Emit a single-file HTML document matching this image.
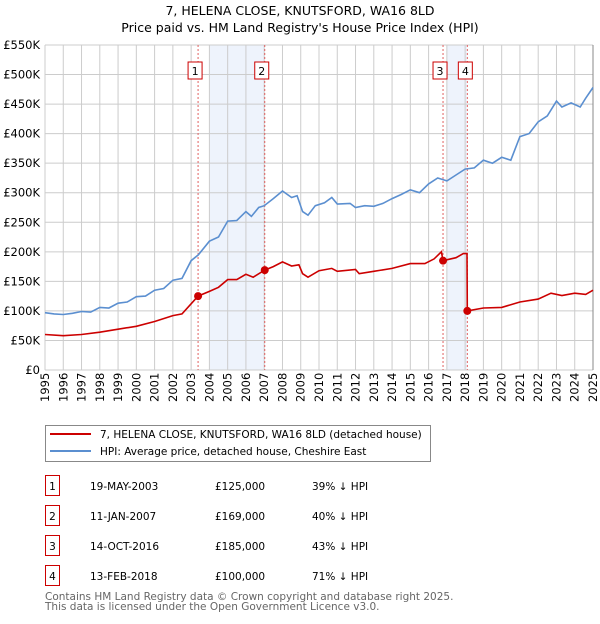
<!DOCTYPE html>
<html><head><meta charset="utf-8"><style>
body{margin:0;background:#fff;font-family:"DejaVu Sans","Liberation Sans",sans-serif;}
svg text{font-family:"DejaVu Sans","Liberation Sans",sans-serif;}
</style></head><body>
<svg id="chart" width="600" height="620" viewBox="0 0 600 620" xmlns="http://www.w3.org/2000/svg">
<text x="300" y="15" text-anchor="middle" font-size="12.5">7, HELENA CLOSE, KNUTSFORD, WA16 8LD</text>
<text x="300" y="32" text-anchor="middle" font-size="12.5">Price paid vs. HM Land Registry's House Price Index (HPI)</text>
<g id="plot"></g>
<g>
<rect x="45.5" y="425.5" width="385" height="36" fill="#fff" stroke="#888"/>
<line x1="50" y1="434" x2="91" y2="434" stroke="#cc0000" stroke-width="2"/>
<text x="100" y="438" font-size="10.5">7, HELENA CLOSE, KNUTSFORD, WA16 8LD (detached house)</text>
<line x1="50" y1="451" x2="91" y2="451" stroke="#5b8fd0" stroke-width="2"/>
<text x="100" y="455" font-size="10.5">HPI: Average price, detached house, Cheshire East</text>
</g>
<g id="table"></g>
<text x="45" y="600" font-size="10.5" fill="#666">Contains HM Land Registry data © Crown copyright and database right 2025.</text>
<text x="45" y="610" font-size="10.5" fill="#666">This data is licensed under the Open Government Licence v3.0.</text>
</svg>
<script>
const hpiYears=[1995,1995.5,1996,1996.5,1997,1997.5,1998,1998.5,1999,1999.5,2000,2000.5,2001,2001.5,2002,2002.5,2003,2003.4,2004,2004.5,2005,2005.5,2006,2006.3,2006.7,2007,2007.5,2008,2008.5,2008.8,2009.1,2009.4,2009.8,2010.3,2010.7,2011,2011.7,2012,2012.5,2013,2013.5,2014,2014.5,2015,2015.5,2016,2016.5,2017,2017.5,2018,2018.5,2019,2019.5,2020,2020.5,2021,2021.5,2022,2022.5,2023,2023.3,2023.8,2024.3,2024.6,2025];
const hpiValues=[97,95,94,96,99,98,106,105,113,115,124,125,135,138,152,155,185,195,218,225,252,253,268,260,275,278,290,303,292,295,268,262,278,283,292,281,282,275,278,277,282,290,297,305,300,315,325,320,330,340,342,355,350,360,355,395,400,420,430,455,445,452,445,460,478];
const propYears=[1995,1996,1997,1998,1999,2000,2001,2002,2002.5,2003.38,2004,2004.5,2005,2005.5,2006,2006.4,2007.03,2007.5,2008,2008.5,2008.9,2009.1,2009.4,2010,2010.7,2011,2012,2012.2,2013,2014,2015,2015.8,2016.3,2016.7,2016.79,2017.5,2017.9,2018.1,2018.12,2019,2020,2021,2022,2022.7,2023.3,2024,2024.6,2025];
const propValues=[60,58,60,64,69,74,82,92,95,125,133,140,153,153,162,157,169,175,183,176,178,163,157,168,172,167,170,163,167,172,180,180,188,200,185,190,197,197,100,105,106,115,120,130,126,130,128,135];
const saleYears=[2003.38,2007.03,2016.79,2018.12];
const saleValues=[125,169,185,100];
const saleLabels=["1","2","3","4"];
const saleDates=["19-MAY-2003","11-JAN-2007","14-OCT-2016","13-FEB-2018"];
const salePrices=["£125,000","£169,000","£185,000","£100,000"];
const saleDiffs=["39% ↓ HPI","40% ↓ HPI","43% ↓ HPI","71% ↓ HPI"];
const yTicks=[0,50,100,150,200,250,300,350,400,450,500,550];
const yTickLabels=["£0","£50K","£100K","£150K","£200K","£250K","£300K","£350K","£400K","£450K","£500K","£550K"];
const NS="http://www.w3.org/2000/svg";
const X0=45,X1=593,Y0=370,Y1=45;
const xs=y=>X0+(y-1995)/30*(X1-X0);
const ys=v=>Y0-v/550*(Y0-Y1);
const plot=document.getElementById('plot');
function mk(tag,attrs,parent){const e=document.createElementNS(NS,tag);for(const k in attrs)e.setAttribute(k,attrs[k]);(parent||plot).appendChild(e);return e;}
// shading
[[2004,2007.03],[2017,2018.12]].forEach((r,i)=>{const e=mk('rect',{x:xs(r[0]),y:Y1,width:xs(r[1])-xs(r[0]),height:Y0-Y1,fill:'#eef3fc'});

});
// grid
for(let yr=1995;yr<=2025;yr++){const e=mk('line',{x1:xs(yr),x2:xs(yr),y1:Y1,y2:Y0,stroke:'#cccccc','stroke-width':1});


const t=mk('text',{transform:`translate(${xs(yr)+4},${Y0+32}) rotate(-90)`,'font-size':11.5});t.textContent=yr;

}
yTicks.forEach((v,i)=>{const e=mk('line',{x1:X0,x2:X1,y1:ys(v),y2:ys(v),stroke:'#cccccc','stroke-width':1});


const t=mk('text',{x:40,y:ys(v)+4,'text-anchor':'end','font-size':11.5});t.textContent=yTickLabels[i];

});
mk('line',{x1:X1,x2:X1,y1:Y1,y2:Y0,stroke:'#888'});
// sale vertical lines and labels
saleYears.forEach((yr,i)=>{const l=mk('line',{x1:xs(yr),x2:xs(yr),y1:Y1,y2:Y0,stroke:'#e06060','stroke-dasharray':'2,2','stroke-width':1});


const bx=i==2?xs(yr)-10:(i==3?xs(yr)+(i==3?-5:0):xs(yr)-10);
const x=i==3?xs(yr)-9:xs(yr)-10;
const r=mk('rect',{x:x-(i==2?0:0),y:62,width:14,height:17,fill:'#fff',stroke:'#cc0000'});


const t=mk('text',{x:x+7,y:75,'text-anchor':'middle','font-size':11});t.textContent=saleLabels[i];

});
const path=(xa,va)=>xa.map((y,i)=>(i?'L':'M')+xs(y).toFixed(1)+','+ys(va[i]).toFixed(1)).join('');
const h=mk('path',{d:path(hpiYears,hpiValues),fill:'none',stroke:'#5b8fd0','stroke-width':1.6});


const p=mk('path',{d:path(propYears,propValues),fill:'none',stroke:'#cc0000','stroke-width':1.6});


saleYears.forEach((yr,i)=>{const c=mk('circle',{cx:xs(yr),cy:ys(saleValues[i]),r:4,fill:'#cc0000'});

});
// table
const tb=document.getElementById('table');
saleLabels.forEach((s,i)=>{const y=475+i*30;
const r=mk('rect',{x:45.5,y:y+0.5,width:14,height:20,fill:'#fff',stroke:'#cc0000'},tb);


const cols=[[52.5,s,'middle'],[90,saleDates[i],'start'],[215,salePrices[i],'start'],[312,saleDiffs[i],'start']];
cols.forEach((c,j)=>{const t=mk('text',{x:c[0],y:y+15,'text-anchor':c[2],'font-size':10.5},tb);t.textContent=c[1];

});});
</script>
</body></html>
